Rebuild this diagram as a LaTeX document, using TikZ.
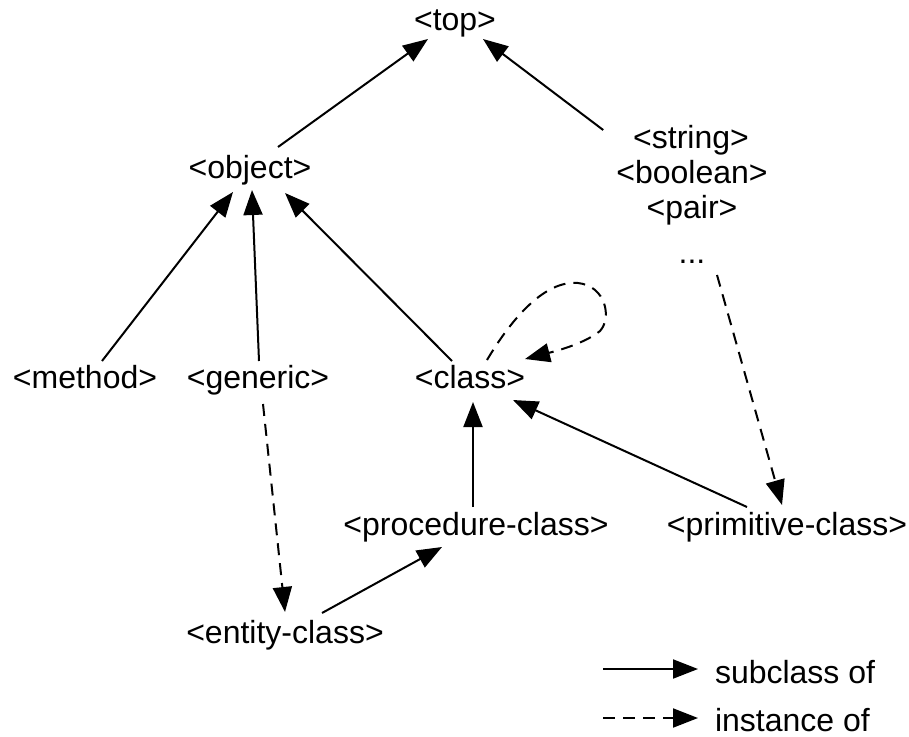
\documentclass[tikz,border=0pt]{standalone}
\usepackage{fontspec}
\setmainfont{Liberation Sans}
\usetikzlibrary{arrows.meta,calc}

\tikzset{
  lbl/.style={inner sep=0pt, outer sep=0pt, anchor=base,
    font=\fontsize{32pt}{35pt}\selectfont, text height=23pt, text depth=7pt},
  sub/.style={line width=2pt, -{Triangle[length=25pt,width=19pt]}},
  inst/.style={sub, dash pattern=on 12pt off 8pt},
}

\begin{document}
\begin{tikzpicture}[x=1pt,y=-1pt]
\useasboundingbox (0,0) rectangle (909,736);

% class names
\node[lbl] (top)       at (455,30)  {<top>};
\node[lbl] (object)    at (250,178) {<object>};
\node[lbl] (string)    at (691,148) {<string>};
\node[lbl] (boolean)   at (692,183) {<boolean>};
\node[lbl] (pair)      at (692,218) {<pair>};
\node[lbl] (dots)      at (692,263) {...};
\node[lbl] (method)    at (85,388)  {<method>};
\node[lbl] (generic)   at (258,388) {<generic>};
\node[lbl] (class)     at (470,388) {<class>};
\node[lbl] (procedure) at (476,535) {<procedure-class>};
\node[lbl] (primitive) at (787,535) {<primitive-class>};
\node[lbl] (entity)    at (285,643) {<entity-class>};

% subclass links
\draw[sub] ([xshift=28pt,yshift=8pt]object.north) -- ([xshift=-27pt,yshift=-2pt]top.south);
\draw[sub] ([xshift=-30pt,yshift=-5pt]string.north west) -- ([xshift=28pt,yshift=-2pt]top.south);
\draw[sub] ([xshift=17pt,yshift=4pt]method.north) -- ([xshift=-17pt,yshift=-7pt]object.south);
\draw[sub] ([xshift=1pt,yshift=4pt]generic.north) -- ([xshift=2pt,yshift=-5pt]object.south);
\draw[sub] ([xshift=-18pt,yshift=4pt]class.north) -- ([xshift=35pt,yshift=-8pt]object.south);
\draw[sub] ([xshift=-3pt,yshift=5pt]procedure.north) -- ([xshift=3pt,yshift=-7pt]class.south);
\draw[sub] ([xshift=-40pt,yshift=5pt]primitive.north) -- ([xshift=43pt,yshift=-5pt]class.south);
\draw[sub] ([xshift=37pt,yshift=7pt]entity.north) -- ([xshift=-34pt,yshift=-5pt]procedure.south);

% instance links
\draw[inst] ([xshift=17pt,yshift=5pt]class.north)
  .. controls (512,318) and (545,280) .. (578,283)
  .. controls (606,286) and (612,318) .. (600,331)
  .. controls (585,343) and (560,350) .. ([xshift=55pt,yshift=6pt]class.north);
\draw[inst] ([xshift=25pt,yshift=-5pt]dots.south) -- ([xshift=-5pt,yshift=7pt]primitive.north);
\draw[inst] ([xshift=5pt,yshift=-9pt]generic.south) -- ([yshift=8pt]entity.north);

% legend
\node[lbl, anchor=base west] (legsub)  at (715,683) {subclass of};
\node[lbl, anchor=base west] (leginst) at (715,731) {instance of};
\coordinate (legsubstart)  at (603,669);
\coordinate (leginststart) at (603,718);
\draw[sub]  (legsubstart)  -- ([xshift=-17pt,yshift=6pt]legsub.west);
\draw[inst] (leginststart) -- ([xshift=-17pt,yshift=5pt]leginst.west);
\end{tikzpicture}
\end{document}
